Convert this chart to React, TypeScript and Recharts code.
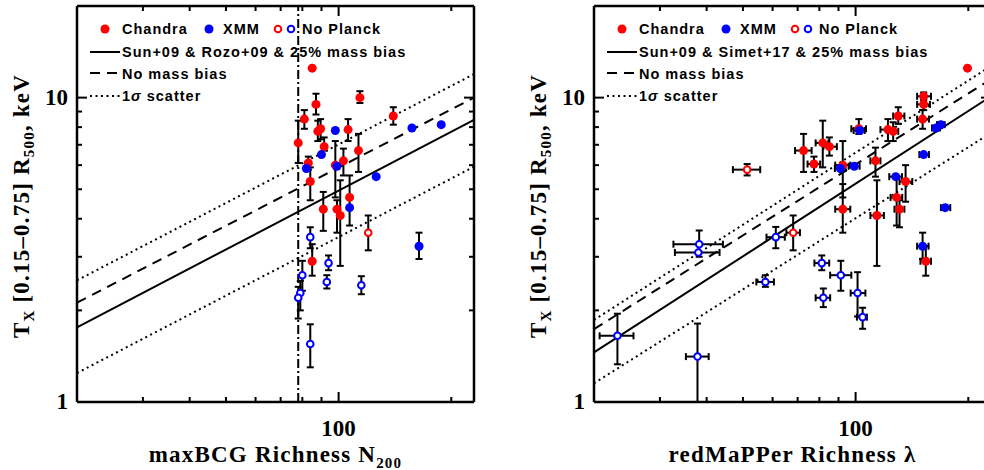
import React from 'react'
import { ScatterChart, Scatter, XAxis, YAxis, ErrorBar, ReferenceLine } from 'recharts'

const RED = '#ff0000'
const BLUE = '#0000ff'

// axes (log-log, both panels)
const xDomain: [number, number] = [20, 230]
const yDomain: [number, number] = [1, 20]
const xTicks = [20, 30, 40, 50, 60, 70, 80, 90, 100, 200]
const yTicks = [1, 2, 3, 4, 5, 6, 7, 8, 9, 10, 20]
const xMajor = [100]
const yMajor = [1, 10]

// left panel rows: [N200, Tx, Tx low, Tx high]
const maxbcgChandra = [
  [85, 12.5, null, null], [87, 9.5, 8.8, 10.3], [114, 10.0, 9.6, 10.5], [81, 8.5, 7.9, 9.1],
  [140, 8.7, 8.15, 9.3], [88, 7.75, 7.2, 8.4], [89.5, 7.9, 7.3, 8.5], [78, 7.1, 6.1, 8.4],
  [91.5, 6.9, 6.7, 7.4], [106, 7.85, 7.2, 8.5], [113, 6.7, 5.7, 7.6], [83, 6.1, 5.8, 6.4],
  [98, 6.0, 4.7, 7.2], [103, 6.2, 5.55, 6.8], [84, 5.3, 4.6, 5.9], [107, 4.7, 3.8, 5.55],
  [91, 4.3, 3.65, 4.9], [99, 4.3, 3.6, 4.6], [101, 4.1, 2.8, 5.35], [85, 2.9, 2.6, 3.3],
]
const maxbcgXmm = [
  [98, 7.8, null, null], [157, 7.95, null, null], [188, 8.15, null, null], [90, 6.5, null, null],
  [82, 5.85, null, null], [99, 5.95, null, null], [126, 5.5, null, null], [107, 4.35, null, null],
  [164, 3.25, 2.95, 3.6],
]
const maxbcgNoPlanckRed = [[120, 3.6, 3.15, 4.1]]
const maxbcgNoPlanckBlue = [
  [84, 3.48, 3.2, 3.75], [94, 2.86, 2.71, 3.03], [93, 2.48, 2.36, 2.61], [115, 2.42, 2.26, 2.59],
  [80, 2.61, 2.32, 2.91], [79, 2.28, 2.0, 2.5], [78, 2.2, 1.88, 2.39], [84, 1.55, 1.3, 1.8],
]

// right panel rows: [lambda, lambda low, lambda high, Tx, Tx low, Tx high]
const redmapperChandra = [
  [199, null, null, 12.5, null, null], [152, 146, 159, 10.1, 9.8, 10.4],
  [152, 146, 158, 9.5, 9.1, 9.9], [151, 146, 157, 8.5, 7.9, 9.1],
  [130, 126, 135, 8.7, 8.2, 9.3], [122, 116.5, 126.5, 7.85, 7.2, 8.5],
  [126, 122, 130, 7.75, 7.2, 8.3], [102, 97.4, 106.6, 7.9, 7.6, 8.5],
  [72.6, 68.9, 76.3, 6.7, 5.7, 7.6], [77.4, 74.4, 80.4, 6.05, 5.7, 6.4],
  [81.7, 78.2, 84.6, 7.1, 5.9, 8.4], [85.1, 82, 89.1, 6.9, 6.45, 7.4],
  [92.4, 88.2, 96.8, 6.0, 4.7, 7.2], [92.4, 88.2, 96.8, 4.3, 3.6, 5.2],
  [113, 109.5, 116.5, 6.2, 5.5, 6.85], [114, 109.5, 119, 4.1, 2.8, 5.35],
  [136, 131, 141.7, 5.3, 4.55, 6.0], [128.7, 124, 133.2, 4.7, 3.8, 5.5],
  [131, 127, 135, 4.3, 3.75, 4.6], [154, 149, 159, 2.9, 2.6, 3.25],
]
const redmapperXmm = [
  [169, 165, 173, 8.15, null, null], [164, 160, 168, 7.95, null, null],
  [152, 148, 157, 6.5, null, null], [173.5, 169, 179, 4.35, null, null],
  [128, 123, 133, 5.5, null, null], [99.2, 95.8, 102.5, 5.95, null, null],
  [91, 88, 94, 5.85, null, null], [102.5, 98.8, 105.7, 7.8, null, null],
  [151, 146, 156.6, 3.25, 2.95, 3.6],
]
const redmapperNoPlanckRed = [
  [51.3, 47, 55.6, 5.8, 5.55, 6.05], [68.1, 65.3, 71, 3.6, 3.15, 4.1],
]
const redmapperNoPlanckBlue = [
  [23.1, 20.7, 25.5, 1.65, 1.33, 1.95], [37.8, 35.2, 40.5, 1.41, 1.0, 1.81],
  [38.2, 32.6, 44.2, 3.3, 3.0, 3.66], [38.0, 32.9, 43.3, 3.1, null, null],
  [61.2, 57.8, 64.7, 3.48, 3.2, 3.76], [57.4, 54.3, 60.5, 2.48, 2.39, 2.61],
  [81.2, 77.6, 85, 2.86, 2.71, 3.03], [91.3, 85.5, 97.4, 2.61, 2.32, 2.91],
  [82, 78.2, 85.5, 2.2, 2.05, 2.36], [101.2, 97, 106.2, 2.28, 1.91, 2.67],
  [104.4, 100.8, 107.2, 1.9, 1.74, 2.04],
]

// scaling relations: Tx at the two ends of the richness range
const lineX = [20, 230]
const maxbcgSolid = [1.76, 8.45]
const maxbcgDashed = [2.12, 10.0]
const maxbcgUpper = [2.51, 11.95]
const maxbcgLower = [1.245, 5.93]
const maxbcgCut = 78
const redmapperSolid = [1.455, 10.1]
const redmapperDashed = [1.735, 11.5]
const redmapperUpper = [1.86, 12.7]
const redmapperLower = [1.152, 7.66]

const PW = 397
const PH = 396
const numFont = { fontFamily: '"Liberation Serif", "DejaVu Serif", serif', fontWeight: 700, fontSize: 23 }
const titleFont = { ...numFont, letterSpacing: 1.2 }
const legFont = { fontFamily: '"Liberation Sans", Arial, sans-serif', fontWeight: 700, fontSize: 14.5, letterSpacing: 1 }

const fromLeft = (rows: any[]) =>
  rows.map(([x, y, lo, hi]) => ({ x, y, ey: lo == null ? undefined : [y - lo, hi - y] }))
const fromRight = (rows: any[]) =>
  rows.map(([x, xlo, xhi, y, lo, hi]) => ({
    x, y,
    ex: xlo == null ? undefined : [x - xlo, xhi - x],
    ey: lo == null ? undefined : [y - lo, hi - y],
  }))

const dot = (c: string) => (p: any) => <circle cx={p.cx} cy={p.cy} r={4.5} fill={c} />
const ring = (c: string) => (p: any) => <circle cx={p.cx} cy={p.cy} r={3.3} fill="#fff" stroke={c} strokeWidth={2} />

function YTick({ x, y, payload }: any) {
  const v = payload.value
  const major = yMajor.includes(v)
  const len = major ? 10 : 5
  return (
    <g>
      <line x1={x} y1={y} x2={x + len} y2={y} stroke="#000" strokeWidth={2} />
      <line x1={x + PW} y1={y} x2={x + PW - len} y2={y} stroke="#000" strokeWidth={2} />
      {major && <text x={x - 9} y={y + 7} textAnchor="end" style={numFont}>{v}</text>}
    </g>
  )
}

function XTick({ x, y, payload }: any) {
  const v = payload.value
  const major = xMajor.includes(v)
  const len = major ? 10 : 5
  return (
    <g>
      <line x1={x} y1={y} x2={x} y2={y - len} stroke="#000" strokeWidth={2} />
      <line x1={x} y1={y - PH} x2={x} y2={y - PH + len} stroke="#000" strokeWidth={2} />
      {major && <text x={x} y={y + 34} textAnchor="middle" style={numFont}>{v}</text>}
    </g>
  )
}

const bar = { stroke: '#000', strokeWidth: 2, width: 3.5 }

function Panel({ left, width, ml, sets, lines, cut }: any) {
  const [solid, dashed, upper, lower] = lines
  const seg = (v: number[]) => [{ x: lineX[0], y: v[0] }, { x: lineX[1], y: v[1] }]
  return (
    <div style={{ position: 'absolute', left, top: 0 }}>
      <ScatterChart width={width} height={470} margin={{ top: 6, right: 16, bottom: 67, left: ml - 1 }}>
        <XAxis type="number" dataKey="x" scale="log" domain={xDomain} allowDataOverflow ticks={xTicks}
          interval={0} tickSize={0} tickMargin={0} tickLine={false} height={1}
          axisLine={{ stroke: '#000', strokeWidth: 2.5 }} tick={XTick} />
        <YAxis type="number" dataKey="y" scale="log" domain={yDomain} allowDataOverflow ticks={yTicks}
          interval={0} tickSize={0} tickMargin={0} tickLine={false} width={1}
          axisLine={{ stroke: '#000', strokeWidth: 2.5 }} tick={YTick} />
        <ReferenceLine y={yDomain[1]} stroke="#000" strokeWidth={2.5} />
        <ReferenceLine x={xDomain[1]} stroke="#000" strokeWidth={2.5} />
        {cut && <ReferenceLine x={cut} stroke="#000" strokeWidth={2} strokeDasharray="9 3 2 3" />}
        <ReferenceLine segment={seg(upper)} stroke="#000" strokeWidth={2} strokeDasharray="2 3.5" />
        <ReferenceLine segment={seg(lower)} stroke="#000" strokeWidth={2} strokeDasharray="2 3.5" />
        <ReferenceLine segment={seg(dashed)} stroke="#000" strokeWidth={2} strokeDasharray="10 7" />
        <ReferenceLine segment={seg(solid)} stroke="#000" strokeWidth={2} />
        {sets.map((s: any, i: number) => (
          <Scatter key={i} data={s.data} isAnimationActive={false} shape={s.shape}>
            <ErrorBar dataKey="ey" direction="y" {...bar} />
            {s.xerr && <ErrorBar dataKey="ex" direction="x" {...bar} />}
          </Scatter>
        ))}
      </ScatterChart>
    </div>
  )
}

function Legend({ px, model }: { px: number; model: string }) {
  return (
    <g style={legFont}>
      <circle cx={px + 28} cy={29} r={4.5} fill={RED} />
      <text x={px + 45} y={34}>Chandra</text>
      <circle cx={px + 132} cy={29} r={4.5} fill={BLUE} />
      <text x={px + 146} y={34}>XMM</text>
      <circle cx={px + 201} cy={29} r={3.3} fill="#fff" stroke={RED} strokeWidth={2} />
      <circle cx={px + 214} cy={29} r={3.3} fill="#fff" stroke={BLUE} strokeWidth={2} />
      <text x={px + 225} y={34}>No Planck</text>
      <line x1={px + 13} x2={px + 43} y1={52} y2={52} stroke="#000" strokeWidth={2} />
      <text x={px + 45} y={57}>{model}</text>
      <line x1={px + 13} x2={px + 41} y1={73} y2={73} stroke="#000" strokeWidth={2} strokeDasharray="10 7" />
      <text x={px + 45} y={78.5}>No mass bias</text>
      <line x1={px + 13} x2={px + 44} y1={96} y2={96} stroke="#000" strokeWidth={2} strokeDasharray="2 3.5" />
      <text x={px + 45} y={101}>1<tspan fontStyle="italic">σ</tspan> scatter</text>
    </g>
  )
}

function YTitle({ x }: { x: number }) {
  return (
    <text transform={`translate(${x},206) rotate(-90)`} textAnchor="middle" style={titleFont}>
      T<tspan dy={5} fontSize={15}>X</tspan>
      <tspan dy={-5}> [0.15–0.75] R</tspan>
      <tspan dy={5} fontSize={15}>500</tspan>
      <tspan dy={-5}>, keV</tspan>
    </text>
  )
}

export default function App() {
  const leftSets = [
    { data: fromLeft(maxbcgChandra), shape: dot(RED) },
    { data: fromLeft(maxbcgXmm), shape: dot(BLUE) },
    { data: fromLeft(maxbcgNoPlanckRed), shape: ring(RED) },
    { data: fromLeft(maxbcgNoPlanckBlue), shape: ring(BLUE) },
  ]
  const rightSets = [
    { data: fromRight(redmapperChandra), shape: dot(RED), xerr: true },
    { data: fromRight(redmapperXmm), shape: dot(BLUE), xerr: true },
    { data: fromRight(redmapperNoPlanckRed), shape: ring(RED), xerr: true },
    { data: fromRight(redmapperNoPlanckBlue), shape: ring(BLUE), xerr: true },
  ]
  return (
    <div style={{ position: 'absolute', left: 0, top: 0, width: 984, height: 470, overflow: 'hidden', background: '#fff' }}>
      <Panel left={0} width={490} ml={77} sets={leftSets}
        lines={[maxbcgSolid, maxbcgDashed, maxbcgUpper, maxbcgLower]} cut={maxbcgCut} />
      <Panel left={490} width={517} ml={104} sets={rightSets}
        lines={[redmapperSolid, redmapperDashed, redmapperUpper, redmapperLower]} />
      <svg width={984} height={470} style={{ position: 'absolute', left: 0, top: 0, pointerEvents: 'none' }}>
        <Legend px={77} model="Sun+09 & Rozo+09 & 25% mass bias" />
        <Legend px={594} model="Sun+09 & Simet+17 & 25% mass bias" />
        <YTitle x={29} />
        <YTitle x={546} />
        <text x={275.5} y={462} textAnchor="middle" style={titleFont}>
          maxBCG Richness N<tspan dy={6} fontSize={15}>200</tspan>
        </text>
        <text x={792.5} y={462} textAnchor="middle" style={titleFont}>redMaPPer Richness λ</text>
      </svg>
    </div>
  )
}
